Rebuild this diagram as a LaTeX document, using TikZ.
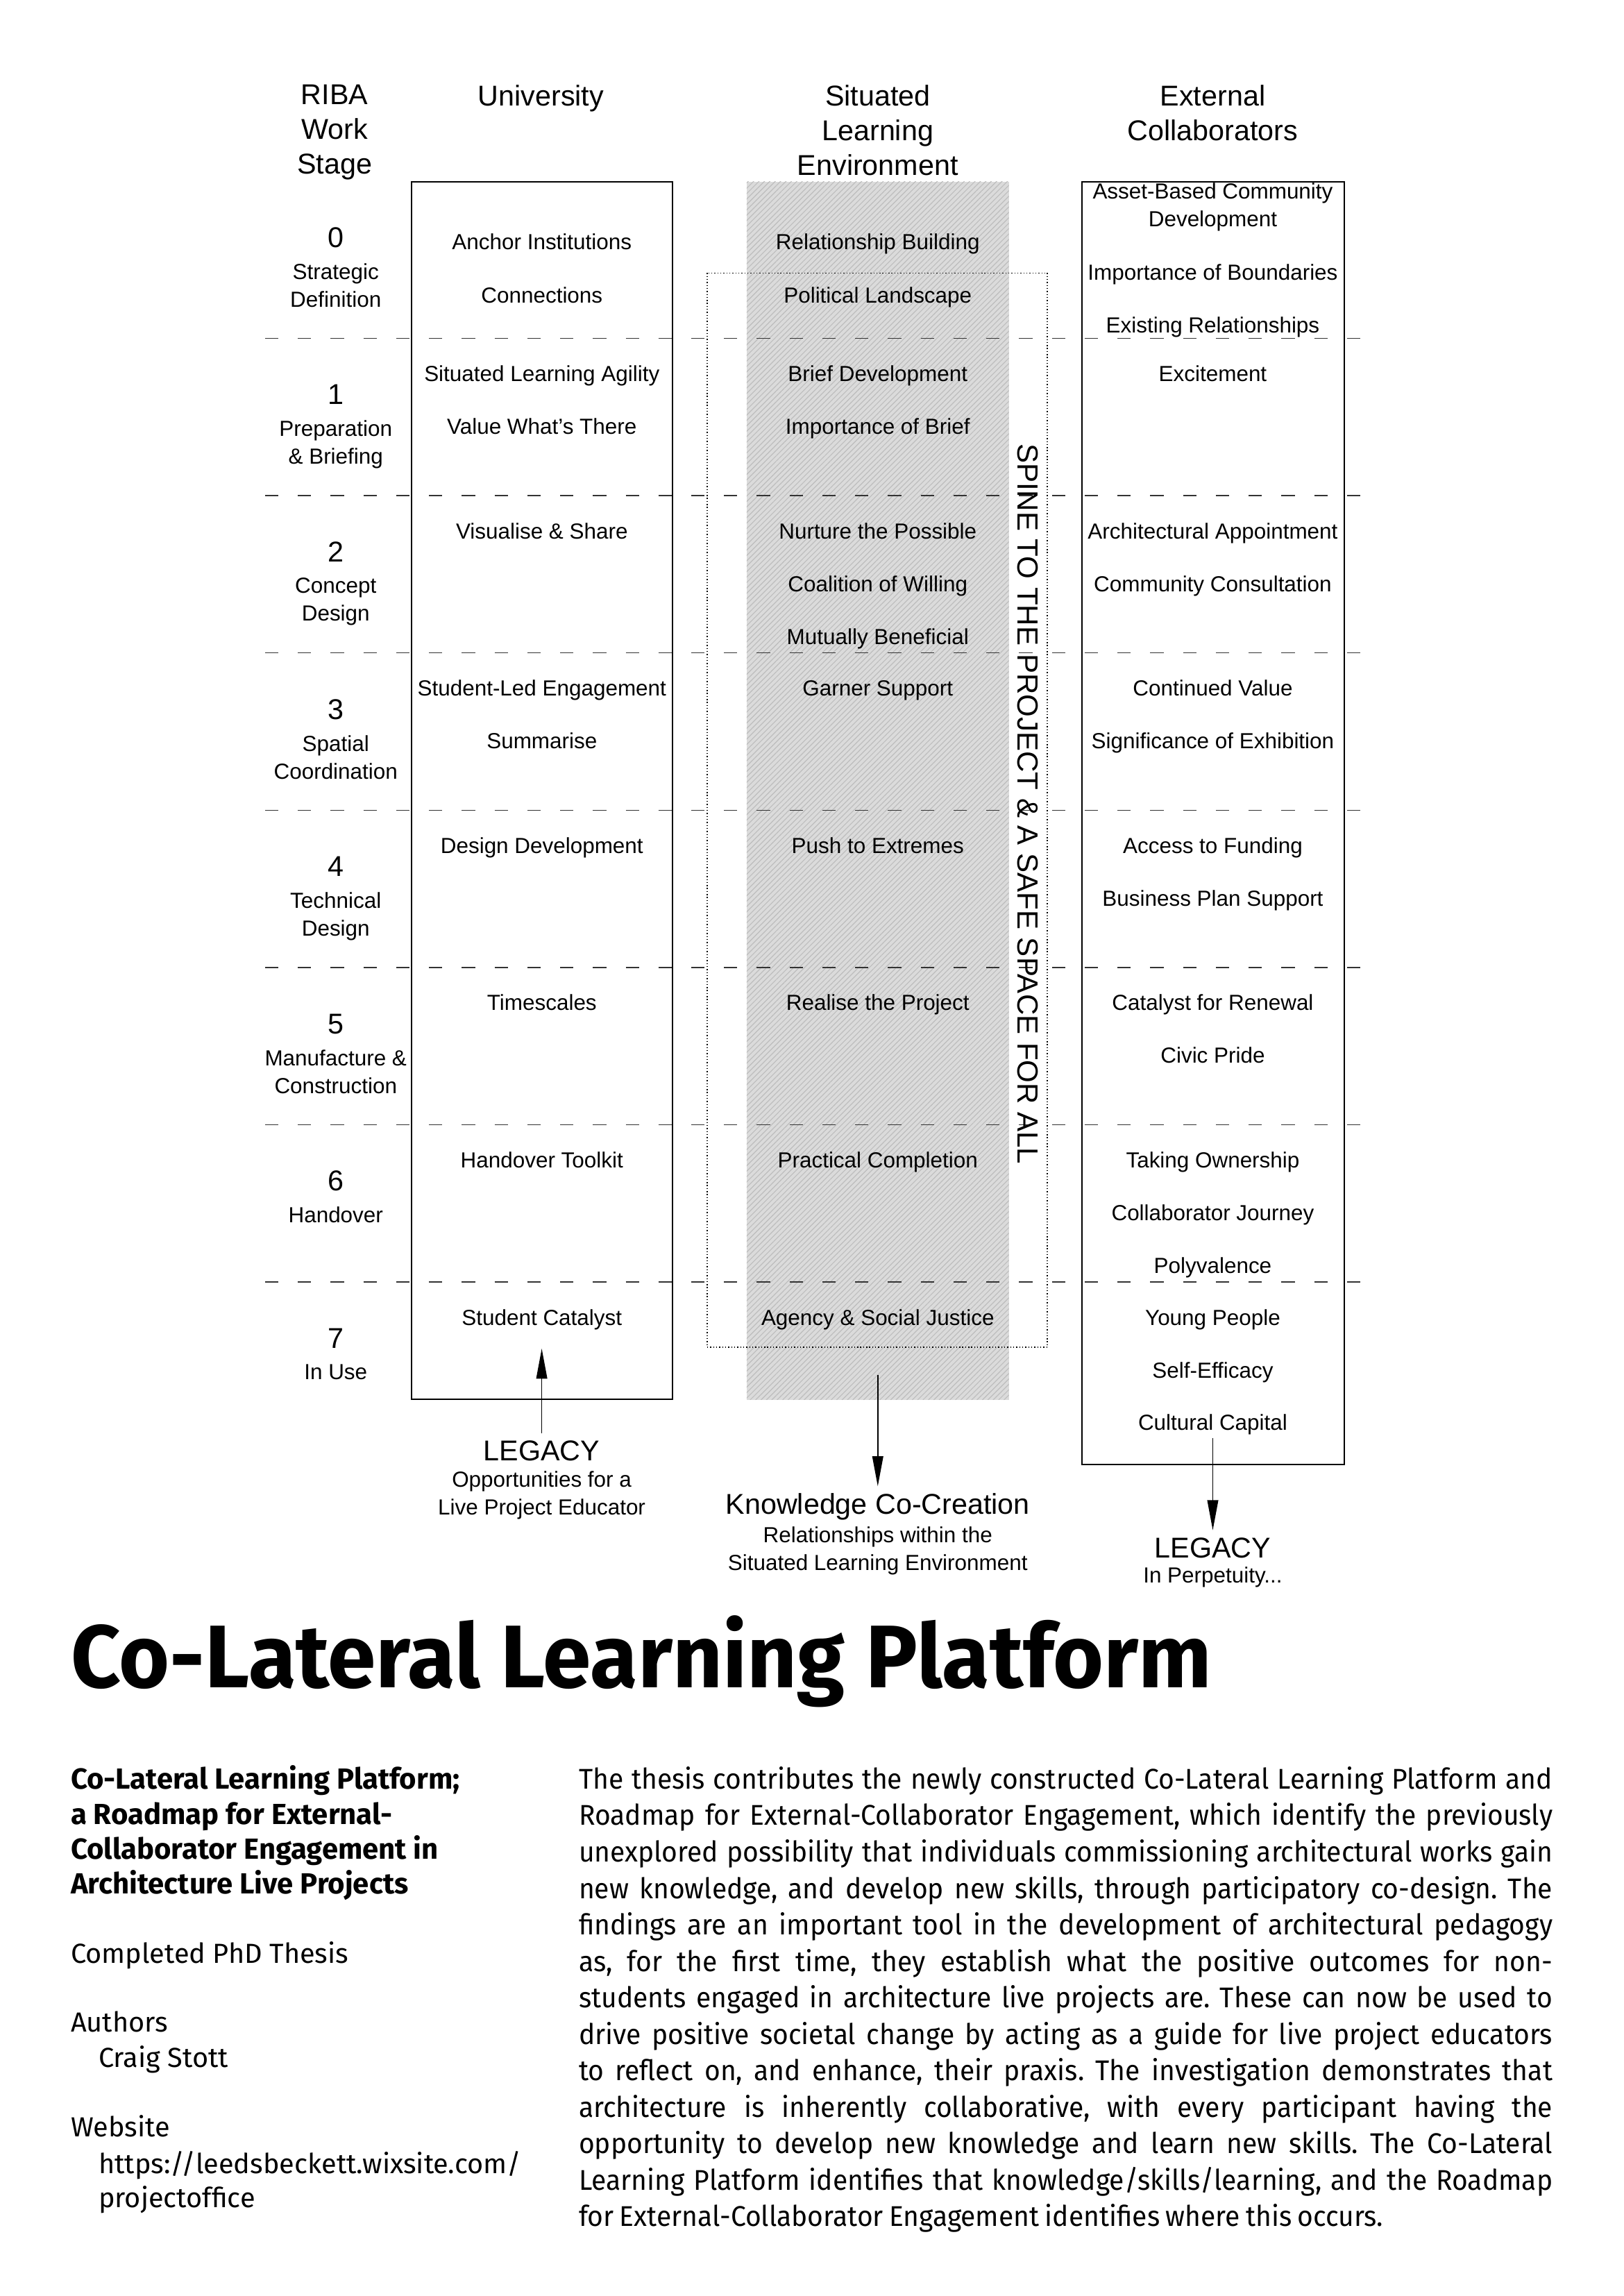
\documentclass[tikz,border=0pt]{standalone}
\usepackage{fontspec}
\setmainfont{Liberation Sans}
\newfontfamily\firasans{Fira Sans}
\newfontfamily\firatitle[FakeStretch=0.976]{Fira Sans}
\newfontfamily\firabody[FakeStretch=0.95,WordSpace=0.8]{Fira Sans}
\usetikzlibrary{arrows.meta,patterns.meta}

\begin{document}
\begin{tikzpicture}[x=0.5368pt,y=-0.5368pt,
  colhead/.style={font=\fontsize{10.5}{12.7}\selectfont,align=center,inner sep=0pt,anchor=north},
  stagenum/.style={font=\fontsize{10.5}{12.7}\selectfont,inner sep=0pt},
  stagetxt/.style={font=\fontsize{8}{10.2}\selectfont,align=center,inner sep=0pt,anchor=north},
  cellitem/.style={font=\fontsize{8}{10.2}\selectfont,inner sep=0pt,text height=5.8pt,text depth=0pt},
  celltxt/.style={font=\fontsize{8}{10.2}\selectfont,align=center,inner sep=0pt},
  bigtxt/.style={font=\fontsize{10.5}{12.7}\selectfont,inner sep=2.5pt,text height=7.5pt,text depth=0pt},
  subtxt/.style={font=\fontsize{8}{10.2}\selectfont,align=center,inner sep=0pt,anchor=north},
  rowline/.style={black!80,line width=0.4pt,dash pattern=on 4.9pt off 7.12pt},
  spinetxt/.style={font=\fontsize{10.7}{12}\selectfont,rotate=-90,inner sep=0pt},
  legarrow/.style={-{Triangle[length=11pt,width=4pt]},line width=0.4pt},
  leftbold/.style={font=\firasans\bfseries\fontsize{10.65}{12.8}\selectfont,anchor=base west,inner sep=0pt},
  lefttxt/.style={font=\firasans\fontsize{10.1}{13}\selectfont,anchor=base west,inner sep=0pt},
  bodyline/.style={font=\firabody\fontsize{10.45}{13.4}\selectfont\frenchspacing,anchor=base west,inner sep=0pt}]
  \useasboundingbox (0,0) rectangle (1109,1568);

  % the three columns and the spine
  \fill[black!14] (510,124) rectangle (689,956);
  \fill[pattern={Lines[angle=45,distance=1.4pt,line width=0.3pt]},pattern color=black!26] (510,124) rectangle (689,956);
  \draw[line width=0.5pt] (281,124) rectangle (459.5,955.5);
  \draw[line width=0.5pt] (739,124) rectangle (918,1000);
  \draw[line width=0.35pt,dash pattern=on 0.35pt off 0.75pt] (483,186.4) rectangle (715.3,920);

  % work stage divisions
  \foreach \k in {1,...,7}
    \draw[rowline] (181,123.7+107.4*\k) -- (929,123.7+107.4*\k);

  % headings
  \node[colhead] (hRiba) at (228.5,57.7) {RIBA\\Work\\Stage};
  \node[colhead] (hUni) at (369.5,57.7) {University};
  \node[colhead] (hSle) at (599.5,57.7) {Situated\\Learning\\Environment};
  \node[colhead] (hExt) at (828.3,57.7) {External\\Collaborators};

  % RIBA stages
  \foreach \k/\txt in {0/Strategic\\Definition, 1/Preparation\\\& Briefing, 2/Concept\\Design,
      3/Spatial\\Coordination, 4/Technical\\Design, 5/Manufacture \&\\Construction, 6/Handover, 7/In Use} {
    \node[stagenum] (n\k) at (229.3,162.2+107.4*\k) {\k};
    \node[stagetxt] (t\k) at (229.3,179.5+107.4*\k) {\txt};
  }

  % university
  \foreach \t/\y [count=\i] in {Anchor Institutions/165.2, Connections/201.3,
      Situated Learning Agility/255.1, Value What's There/291.1, Visualise \& Share/362.5,
      Student-Led Engagement/469.9, Summarise/505.9, Design Development/577.3,
      Timescales/684.7, Handover Toolkit/792.1, Student Catalyst/899.5}
    \node[cellitem] (u\i) at (370.1,\y) {\t};

  % situated learning environment
  \foreach \t/\y [count=\i] in {Relationship Building/165.2, Political Landscape/201.3,
      Brief Development/255.1, Importance of Brief/291.1, Nurture the Possible/362.5,
      Coalition of Willing/398.5, Mutually Beneficial/434.5, Garner Support/469.9,
      Push to Extremes/577.3, Realise the Project/684.7, Practical Completion/792.1,
      Agency \& Social Justice/899.5}
    \node[cellitem] (s\i) at (599.5,\y) {\t};

  % external collaborators
  \node[celltxt] (e0) at (828.3,141.5) {Asset-Based Community\\Development};
  \foreach \t/\y [count=\i] in {Importance of Boundaries/185.7, Existing Relationships/221.7,
      Excitement/255.1, Architectural Appointment/362.5, Community Consultation/398.5,
      Continued Value/469.9, Significance of Exhibition/505.9, Access to Funding/577.3,
      Business Plan Support/613.3, Catalyst for Renewal/684.7, Civic Pride/720.7,
      Taking Ownership/792.1, Collaborator Journey/828.1, Polyvalence/864.1,
      Young People/899.5, Self-Efficacy/935.5, Cultural Capital/971.5}
    \node[cellitem] (e\i) at (828.3,\y) {\t};

  \node[spinetxt] (spine) at (702,549) {SPINE TO THE PROJECT \& A SAFE SPACE FOR ALL};

  % outcomes
  \node[bigtxt] (legU) at (370,990.6) {LEGACY};
  \node[subtxt] (legUsub) at (370,1004.2) {Opportunities for a\\Live Project Educator};
  \node[bigtxt] (kcc) at (599.5,1027) {Knowledge Co-Creation};
  \node[subtxt] (kccSub) at (599.5,1042.3) {Relationships within the\\Situated Learning Environment};
  \node[bigtxt] (legE) at (828.3,1057) {LEGACY};
  \node[subtxt] (legEsub) at (828.3,1069.7) {In Perpetuity...};

  \coordinate (uTip) at (370,921);
  \coordinate (sTail) at (599.5,939);
  \coordinate (eTail) at (828.3,982);
  \draw[legarrow] (legU) -- (uTip);
  \draw[legarrow] (sTail) -- (kcc);
  \draw[legarrow] (eTail) -- (legE);

  % title block
  \node[anchor=base west,inner sep=0pt,font=\firatitle\bfseries\fontsize{32.6}{38}\selectfont]
    (title) at (48,1152.4) {Co-Lateral Learning Platform};

  \foreach \t/\y [count=\i] in {Co-Lateral Learning Platform;/1221.8, a Roadmap for External-/1245.8,
      Collaborator Engagement in/1269.7, Architecture Live Projects/1293.5}
    \node[leftbold] (sub\i) at (48,\y) {\t};
  \node[lefttxt] (phd) at (48,1340.8) {Completed PhD Thesis};
  \node[lefttxt] (authH) at (48,1387.5) {Authors};
  \node[lefttxt] (auth) at (67,1412) {Craig Stott};
  \node[lefttxt] (webH) at (48,1459) {Website};
  \node[lefttxt] (web) at (67,1484.5) {https://leedsbeckett.wixsite.com/};
  \node[lefttxt] (web2) at (67,1507.5) {projectoffice};

  \foreach \ln [count=\i] in {{The thesis contributes the newly constructed Co-Lateral Learning Platform and},
      {Roadmap for External-Collaborator Engagement, which identify the previously},
      {unexplored possibility that individuals commissioning architectural works gain},
      {new knowledge, and develop new skills, through participatory co-design. The},
      {findings are an important tool in the development of architectural pedagogy},
      {as, for the first time, they establish what the positive outcomes for non-},
      {students engaged in architecture live projects are. These can now be used to},
      {drive positive societal change by acting as a guide for live project educators},
      {to reflect on, and enhance, their praxis. The investigation demonstrates that},
      {architecture is inherently collaborative, with every participant having the},
      {opportunity to develop new knowledge and learn new skills. The Co-Lateral},
      {Learning Platform identifies that knowledge/skills/learning, and the Roadmap}}
    \node[bodyline] (body\i) at (395,1221.7+24.9*\i-24.9) {\makebox[357pt][s]{\ln}};
  \node[bodyline] (body13) at (395,1520.5) {for External-Collaborator Engagement identifies where this occurs.};
\end{tikzpicture}
\end{document}
